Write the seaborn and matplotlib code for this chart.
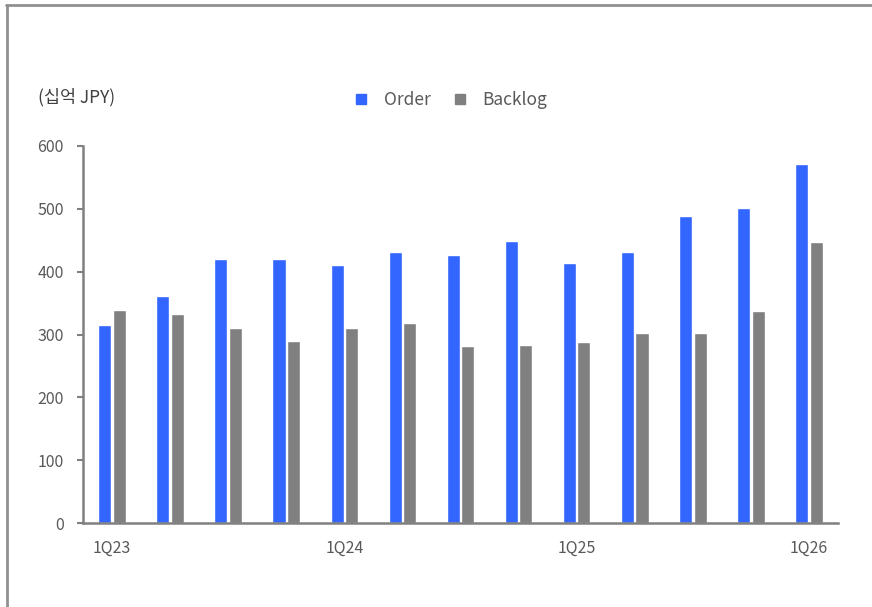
import matplotlib
matplotlib.use("Agg")
import matplotlib.pyplot as plt
from matplotlib.lines import Line2D
import seaborn as sns
import pandas as pd

# quarterly data, 1Q23 .. 1Q26
quarters = ["1Q23", "2Q23", "3Q23", "4Q23", "1Q24", "2Q24", "3Q24", "4Q24",
            "1Q25", "2Q25", "3Q25", "4Q25", "1Q26"]
order = [315, 361, 420, 420, 411, 431, 427, 449, 414, 431, 489, 501, 572]
backlog = [339, 333, 310, 290, 310, 318, 282, 283, 288, 303, 303, 338, 447]
tick_labels = ["1Q23", "1Q24", "1Q25", "1Q26"]
unit_label = "(십억 JPY)"

df = pd.DataFrame({
    "quarter": quarters * 2,
    "value": order + backlog,
    "series": ["Order"] * len(quarters) + ["Backlog"] * len(quarters),
})

sns.set_style("white")
plt.rcParams["font.family"] = ["Noto Sans CJK KR", "DejaVu Sans"]

axis_grey = "#808080"
text_grey = "#595959"
colors = {"Order": "#3366FF", "Backlog": "#808080"}

fig = plt.figure(figsize=(8.72, 6.07), dpi=100)
ax = fig.add_axes([83 / 872, 1 - 523 / 607, (838 - 83) / 872, (523 - 146) / 607])

sns.barplot(data=df, x="quarter", y="value", hue="series", palette=colors,
            width=0.5, gap=0.1, saturation=1, ax=ax, legend=False, errorbar=None)

ax.set_ylim(0, 600)
ax.set_xlim(-0.5, len(quarters) - 0.5)
ax.set_yticks(range(0, 601, 100))
ax.set_xlabel("")
ax.set_ylabel("")

# x labels at every 4th quarter, tick marks on group boundaries
ax.set_xticks([0, 4, 8, 12])
ax.set_xticklabels(tick_labels)
ax.set_xticks([-0.5, 3.5, 7.5, 11.5], minor=True)
ax.tick_params(axis="x", which="major", length=0, pad=12, labelsize=11.5, labelcolor=text_grey)
ax.tick_params(axis="x", which="minor", length=5, width=1.5, color=axis_grey, direction="out")
ax.tick_params(axis="y", length=4, width=1.5, color=axis_grey, labelsize=11.5,
               labelcolor=text_grey, pad=10, left=True)

for side in ["top", "right"]:
    ax.spines[side].set_visible(False)
for side in ["left", "bottom"]:
    ax.spines[side].set_color(axis_grey)
    ax.spines[side].set_linewidth(1.8)

# legend
handles = [Line2D([], [], marker="s", linestyle="", markersize=6.5, color=colors[k]) for k in ["Order", "Backlog"]]
fig.legend(handles, ["Order", "Backlog"], loc="center", bbox_to_anchor=(449 / 872, 1 - 100 / 607),
           ncol=2, frameon=False, fontsize=12.5, handletextpad=0.7, columnspacing=1.1,
           handlelength=1.2, labelcolor=text_grey)

fig.text(38 / 872, 1 - 97 / 607, unit_label, fontsize=12.5, color="#404040", va="center", ha="left")

# outer frame (left and top only)
fig.add_artist(Line2D([7 / 872, 7 / 872], [0, 1 - 5 / 607], color="#909090", lw=2, transform=fig.transFigure))
fig.add_artist(Line2D([6 / 872, 1], [1 - 5 / 607, 1 - 5 / 607], color="#909090", lw=2, transform=fig.transFigure))

fig.savefig("out.png", dpi=100)
